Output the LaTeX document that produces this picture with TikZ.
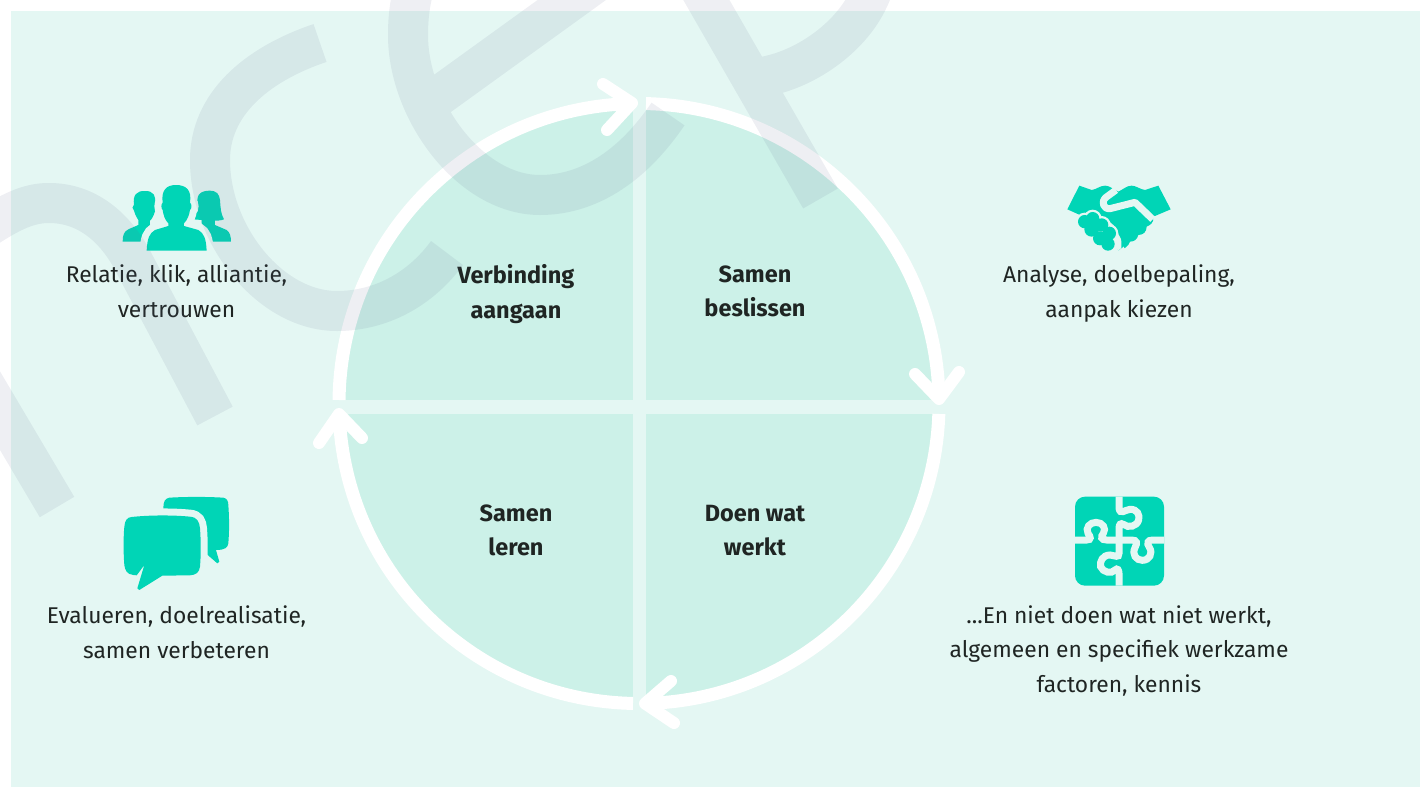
\documentclass[tikz,border=0pt]{standalone}
\usepackage{fontspec}
\setmainfont{Fira Sans}
\usepackage{tikz}
\usetikzlibrary{positioning}

\definecolor{paneback}{HTML}{E4F7F3}
\definecolor{quadfill}{HTML}{CCF1E8}
\definecolor{iconfill}{HTML}{00D5B6}
\definecolor{inktext}{HTML}{1F2523}
\definecolor{markgrey}{HTML}{606A8F}

\tikzset{
  caption/.style={align=center, text=inktext, font=\fontsize{22.8}{34.5}\selectfont,
    execute at begin node=\strut, execute at end node=\strut},
  quadrant/.style={caption, font=\fontsize{23.5}{34.5}\selectfont\bfseries},
  ring/.style={draw=white, line width=13pt},
  chevron/.style={draw=white, line width=12pt, line cap=round, line join=round},
  iconpart/.style={fill=iconfill},
  iconfront/.style={fill=iconfill, preaction={draw=paneback, line width=14pt}},
  iconline/.style={draw=paneback, line width=7pt},
  lettermark/.style={draw=markgrey, draw opacity=0.107, line width=40pt}
}

\begin{document}
\begin{tikzpicture}[x=1pt, y=-1pt, node distance=239pt]
    \useasboundingbox (0,0) rectangle (1420,787);
    \fill [white] (0,0) rectangle (1420,787);
    \fill [paneback] (11,11) rectangle (1420,787);

    % Disc and its cross
    \coordinate (mid) at (639,403.5);
    \fill [quadfill] (mid) circle (295);
    \fill [paneback] (633,95) rectangle (646,712);
    \fill [paneback] (336,400) rectangle (942,414);

    % Ring
    \coordinate (startn) at ([shift={(-88.66:300)}]mid);
    \coordinate (starte) at ([shift={(2:300)}]mid);
    \coordinate (starts) at ([shift={(91.15:300)}]mid);
    \coordinate (startw) at ([shift={(180.67:300)}]mid);
    \draw [ring] (startn) arc (-88.66:-1:300);
    \draw [ring] (starte) arc (2:88:300);
    \draw [ring] (starts) arc (91.15:178:300);
    \draw [ring] (startw) arc (180.67:268:300);

    % Arrowheads
    \coordinate (tipn) at (632,103);
    \coordinate (tipe) at (939,399);
    \coordinate (tips) at (645,703.5);
    \coordinate (tipw) at (339,414);
    \draw [chevron] (603,84) -- (tipn) -- (607,130);
    \draw [chevron] (915,374) -- (tipe) -- (959,372);
    \draw [chevron] (671,681) -- (tips) -- (674,723);
    \draw [chevron] (319,443) -- (tipw) -- (362,438);

    % Labels
    \node [quadrant] (verbinding) at (516,296.5) {Verbinding\\aangaan};
    \node [quadrant] (beslissen)  [right of=verbinding] {Samen\\beslissen};
    \node [quadrant] (leren)      [below of=verbinding] {Samen\\leren};
    \node [quadrant] (doen)       [below of=beslissen]  {Doen wat\\werkt};
    \node [caption]  (relatie)    at (176.5,296.5) {Relatie, klik, alliantie,\\vertrouwen};
    \node [caption]  (analyse)    at (1119,296.5)  {Analyse, doelbepaling,\\aanpak kiezen};
    \node [caption]  (evalueren)  at (176.5,637.5) {Evalueren, doelrealisatie,\\samen verbeteren};
    \node [caption]  (factoren)   at (1119,654)    {...En niet doen wat niet werkt,\\algemeen en specifiek werkzame\\factoren, kennis};

    % People icon
    \begin{scope}[shift={(100,170)}, x=0.3333pt, y=-0.3333pt]
        \fill [iconpart] (68,215) .. controls (68,195) and (72,185) .. (85,178) -- (115,165) -- (115,150)
            .. controls (108,140) and (104,130) .. (102,122) .. controls (96,118) and (96,108) .. (102,104)
            .. controls (98,75) and (110,62) .. (135,63) .. controls (160,62) and (170,78) .. (165,104)
            .. controls (172,108) and (170,120) .. (165,124) .. controls (160,140) and (155,148) .. (150,152)
            -- (150,165) -- (165,172) -- (130,215) -- cycle;
        \fill [iconpart] (280,148) .. controls (292,125) and (290,100) .. (292,85)
            .. controls (295,68) and (310,62) .. (328,62) .. controls (350,62) and (358,72) .. (360,90)
            .. controls (362,115) and (362,130) .. (372,148) .. controls (362,152) and (350,152) .. (345,152)
            -- (345,165) -- (380,180) .. controls (390,187) and (393,200) .. (393,215)
            -- (325,215) -- (310,175) -- (305,160) -- (305,150) -- cycle;
        \path [iconfront] (140,242) .. controls (142,205) and (148,190) .. (165,180)
            -- (205,168) -- (205,160) .. controls (195,150) and (190,135) .. (188,120)
            .. controls (183,115) and (183,102) .. (188,98) .. controls (183,60) and (200,45) .. (228,45)
            .. controls (258,45) and (276,60) .. (270,98) .. controls (276,102) and (276,115) .. (270,120)
            .. controls (268,135) and (262,150) .. (252,160) -- (252,168) -- (295,180)
            .. controls (312,190) and (318,205) .. (320,242) -- cycle;
    \end{scope}

    % Handshake icon
    \begin{scope}[shift={(1050,170)}, x=0.3333pt, y=-0.3333pt]
        \fill [iconpart] (88,47) -- (125,60) .. controls (140,58) and (150,47) .. (165,47)
            .. controls (178,47) and (185,55) .. (205,65) .. controls (220,58) and (230,47) .. (245,47)
            .. controls (258,47) and (270,58) .. (285,60) -- (325,47) -- (362,118) -- (310,140)
            .. controls (312,160) and (300,165) .. (290,170) .. controls (290,185) and (280,195) .. (265,195)
            .. controls (262,210) and (250,215) .. (240,215) .. controls (235,230) and (222,238) .. (205,240)
            -- (120,125) -- (90,135) -- (52,118) -- cycle;
        \draw [iconline, line join=round] (198,60) -- (168,82) .. controls (152,95) and (160,118) .. (180,116)
            -- (255,97) -- (308,148);
        \foreach \hx/\hy/\hr in {104/155/20, 128/146/20, 125/178/22, 155/165/20, 150/205/21, 178/190/20, 174/222/20} {
            \fill [paneback] (\hx,\hy) circle (\hr+7);
        }
        \fill [paneback] (205,240) -- (225,240) -- (212,205) -- (190,165) -- (160,140) -- (150,205) -- cycle;
        \fill [iconpart] (205,242) -- (240,215) -- (225,190) -- (214,205) -- (214,235) -- cycle;
        \foreach \hx/\hy/\hr in {104/155/20, 128/146/20, 125/178/22, 155/165/20, 150/205/21, 178/190/20, 174/222/20} {
            \fill [iconpart] (\hx,\hy) circle (\hr);
        }
    \end{scope}

    % Speech icon
    \begin{scope}[shift={(110,485)}, x=0.3333pt, y=-0.3333pt]
        \fill [iconpart] (178,38) .. controls (230,35) and (290,35) .. (340,38) .. controls (352,40) and (355,50) .. (355,60)
            .. controls (358,100) and (358,140) .. (355,175) .. controls (353,188) and (345,195) .. (318,195)
            -- (328,230) -- (322,235) -- (278,197) -- (180,120) -- (160,70) .. controls (160,50) and (165,40) .. (178,38) -- cycle;
        \path [iconfront] (65,96) .. controls (120,90) and (190,90) .. (240,95)
            .. controls (262,97) and (268,110) .. (270,130) .. controls (273,170) and (273,210) .. (270,245)
            .. controls (268,262) and (258,270) .. (240,271) -- (157,272) -- (88,315) -- (82,310)
            -- (103,240) -- (80,271) -- (70,270) .. controls (50,268) and (45,255) .. (43,240)
            .. controls (40,200) and (40,160) .. (43,125) .. controls (45,105) and (52,97) .. (65,96) -- cycle;
    \end{scope}

    % Puzzle icon
    \begin{scope}[shift={(1060,485)}, x=0.3333pt, y=-0.3333pt]
        \fill [iconpart, rounded corners=10pt] (45,35) rectangle (312,302);
        \draw [iconline] (177,35) -- (177,70) .. controls (180,90) and (195,75) .. (210,73)
            .. controls (232,72) and (240,90) .. (236,105) .. controls (230,125) and (205,130) .. (190,118)
            .. controls (182,113) and (177,118) .. (177,130) -- (177,165) -- (177,205)
            .. controls (177,220) and (165,212) .. (150,210) .. controls (128,210) and (118,230) .. (122,245)
            .. controls (128,262) and (155,268) .. (165,255) .. controls (172,248) and (177,255) .. (177,265) -- (177,302);
        \draw [iconline] (45,165) -- (80,165) .. controls (95,165) and (92,155) .. (84,145)
            .. controls (75,128) and (90,112) .. (108,112) .. controls (128,112) and (140,130) .. (130,145)
            .. controls (122,155) and (122,165) .. (140,165) -- (215,165) .. controls (232,165) and (232,175) .. (225,188)
            .. controls (215,208) and (228,226) .. (247,226) .. controls (268,226) and (280,205) .. (268,187)
            .. controls (260,175) and (262,165) .. (278,165) -- (312,165);
    \end{scope}

    % Letters behind the page
    \begin{scope}
        \clip (0,0) rectangle (1420,787);
        \draw [lettermark] (57,507) -- (-30,360)
            (215,416) -- (135,265) .. controls (115,225) and (85,203) .. (49,203) .. controls (30,203) and (12,210) .. (-20,232);
        \draw [lettermark] (320,43) .. controls (255,65) and (210,105) .. (210,160) .. controls (210,235) and (270,311) .. (337,311)
            .. controls (380,311) and (420,290) .. (447,253);
        \draw [lettermark] (668,114) .. controls (630,170) and (585,195) .. (540,195) .. controls (470,195) and (408,110) .. (408,35)
            .. controls (408,10) and (412,-15) .. (425,-40)
            (425,106) -- (605,-24);
        \draw [lettermark] (820.5,198.5) -- (692,-25)
            (762,77) .. controls (805,70) and (850,38) .. (868,0) .. controls (873,-10) and (876,-20) .. (878,-30);
    \end{scope}
\end{tikzpicture}
\end{document}
